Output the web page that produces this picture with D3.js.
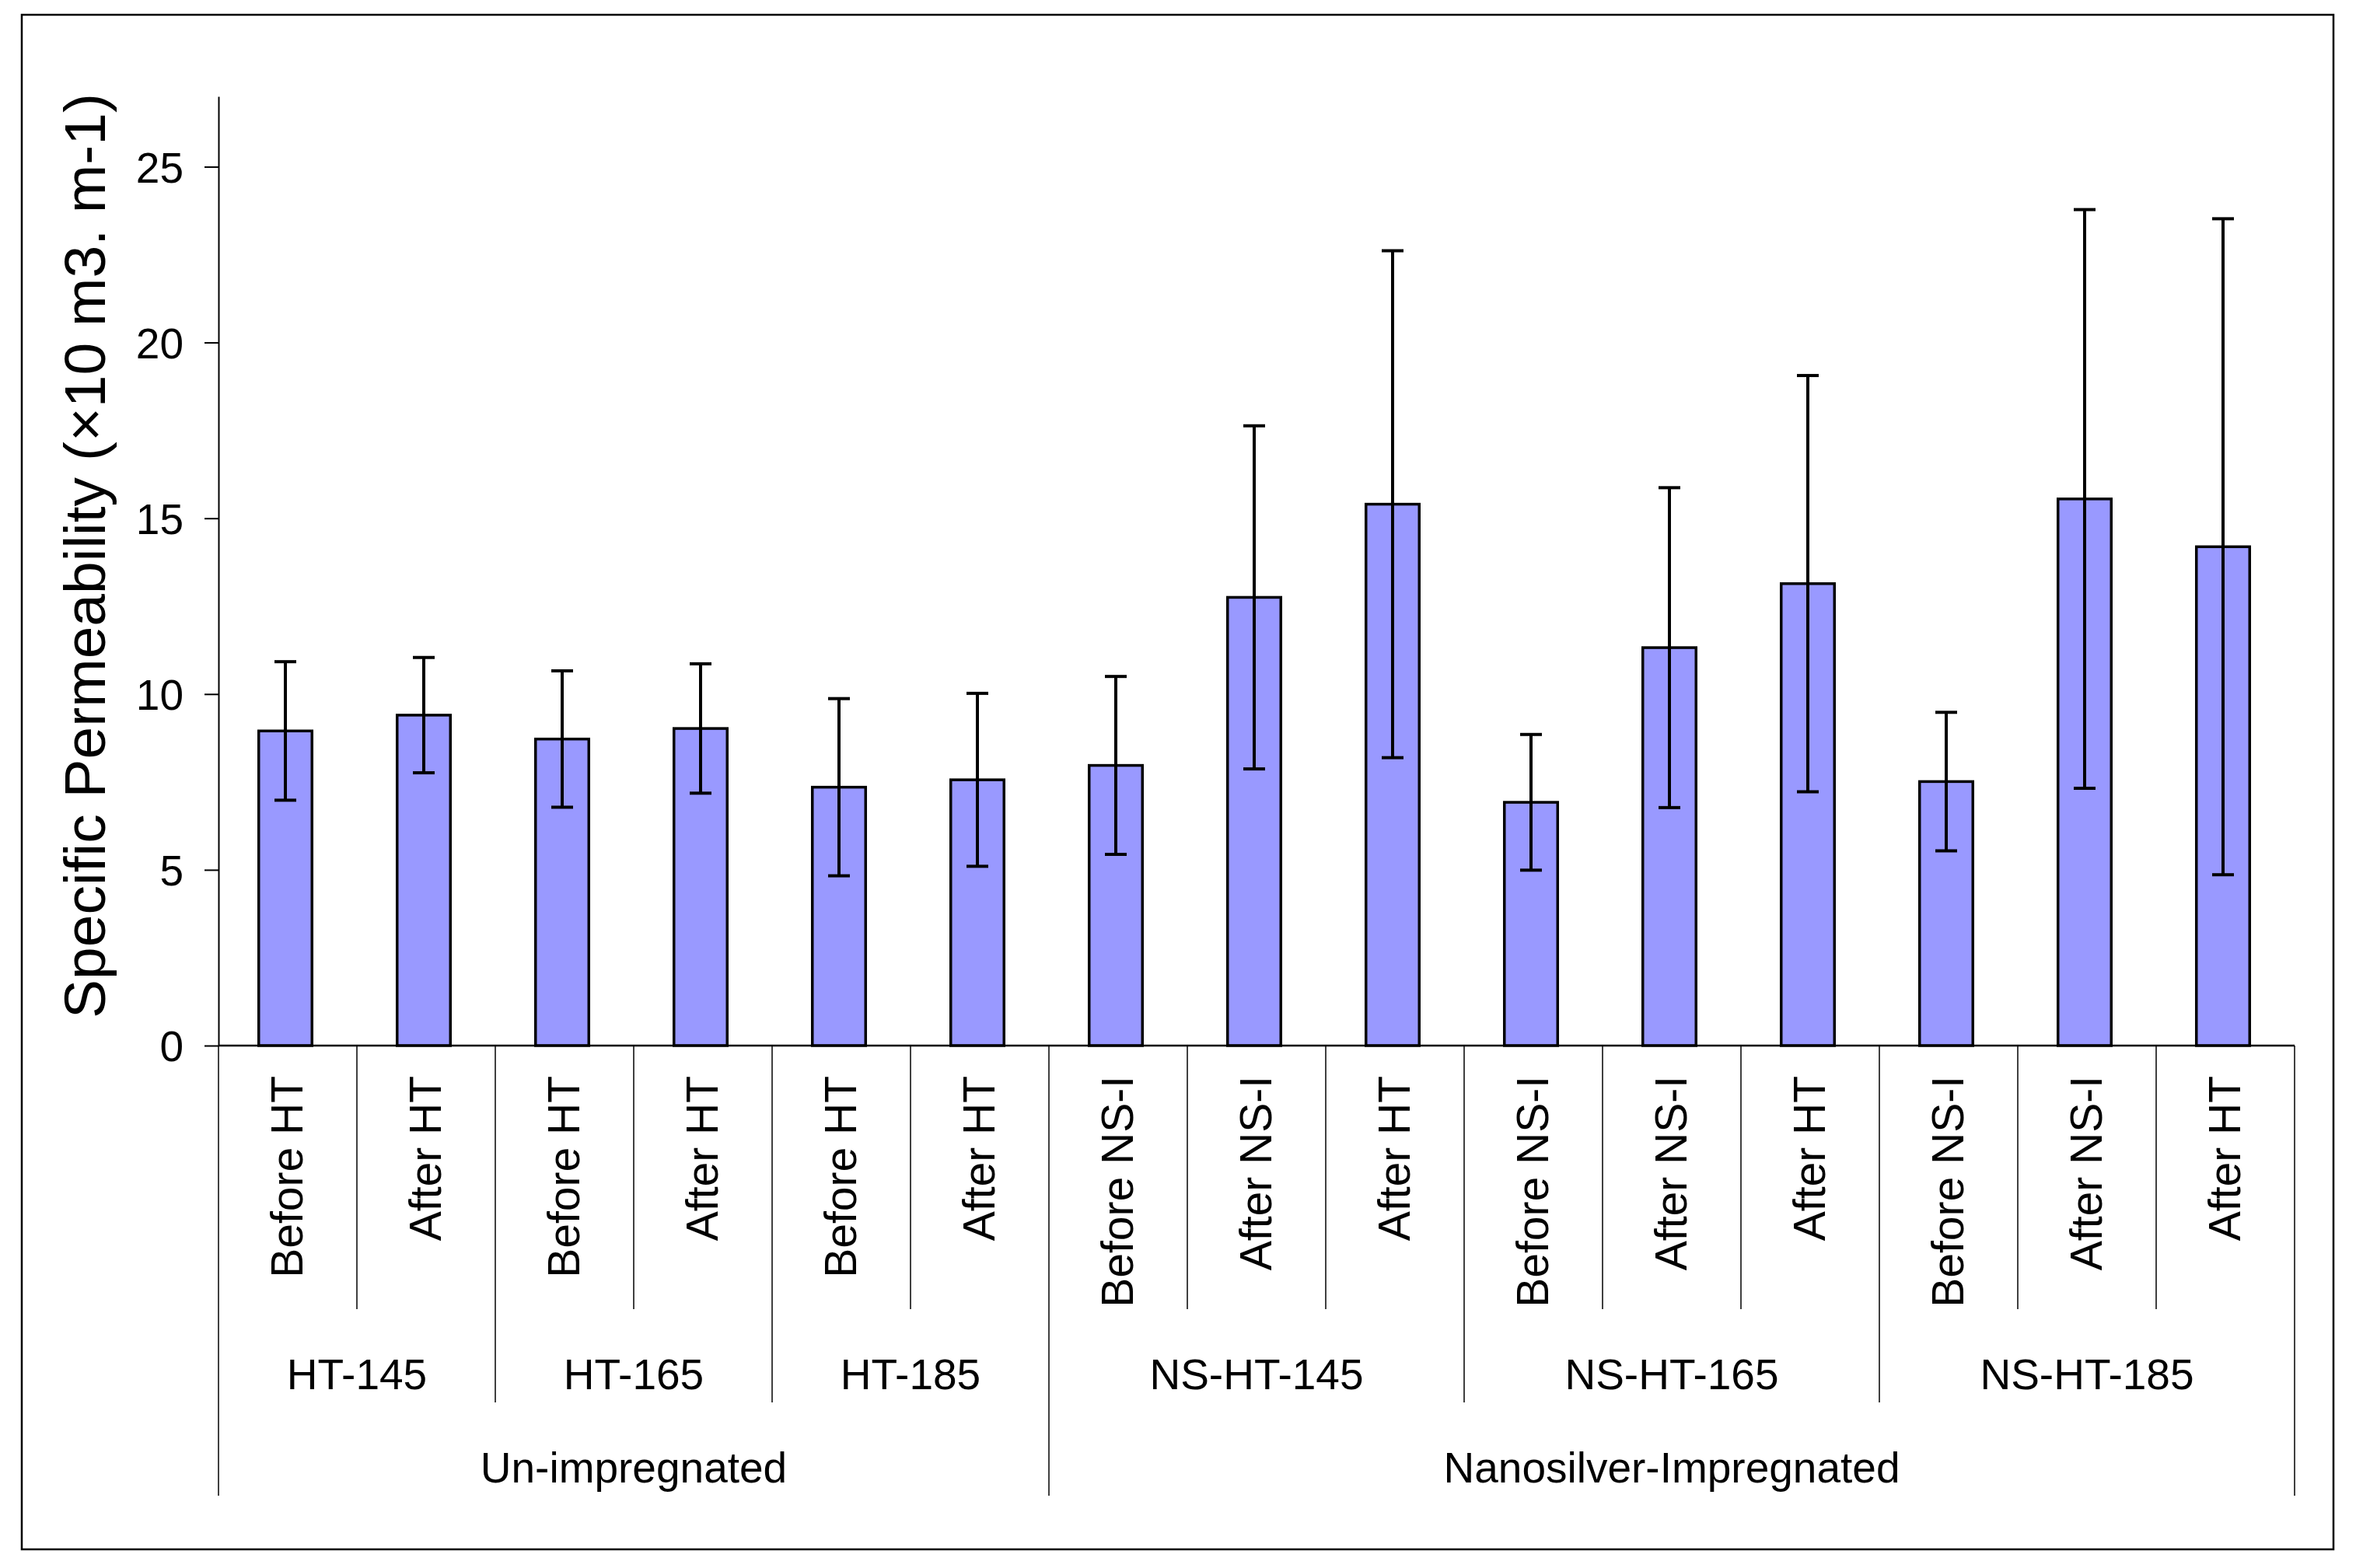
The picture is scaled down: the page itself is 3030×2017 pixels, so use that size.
<!DOCTYPE html>
<html>
<head>
<meta charset="utf-8">
<script src="https://cdn.jsdelivr.net/npm/d3@7"></script>
<style>
  body { margin: 0; background: #fff; }
  text { font-family: "Liberation Sans", Arial, sans-serif; fill: #000; }
</style>
</head>
<body>
<svg id="chart"></svg>
<script>
// bar labels, means and +/- errors
const categories = ['Before HT', 'After HT', 'Before HT', 'After HT', 'Before HT', 'After HT',
  'Before NS-I', 'After NS-I', 'After HT', 'Before NS-I', 'After NS-I', 'After HT',
  'Before NS-I', 'After NS-I', 'After HT']
const means = [8.95, 9.40, 8.72, 9.02, 7.35, 7.56, 7.97, 12.75, 15.40, 6.92, 11.32, 13.14, 7.51, 15.55, 14.19]
const errors = [1.97, 1.64, 1.94, 1.84, 2.52, 2.46, 2.53, 4.88, 7.21, 1.93, 4.55, 5.92, 1.97, 8.23, 9.33]

// second and third label rows
const groupNames = ['HT-145', 'HT-165', 'HT-185', 'NS-HT-145', 'NS-HT-165', 'NS-HT-185']
const groupSizes = [2, 2, 2, 3, 3, 3]
const treatNames = ['Un-impregnated', 'Nanosilver-Impregnated']
const treatSizes = [6, 9]

const yTicks = [0, 5, 10, 15, 20, 25]
const yLabel = 'Specific Permeability (×10 m3. m-1)'

const width = 3030
const height = 2017

const svg = d3.select('#chart')
  .attr('width', width)
  .attr('height', height)

// outer frame
svg.append('rect')
  .attr('x', 28).attr('y', 19)
  .attr('width', 2973).attr('height', 1974)
  .attr('fill', 'none')
  .attr('stroke', '#000')
  .attr('stroke-width', 2.5)

const plotLeft = 281, plotRight = 2951, plotTop = 124, plotBottom = 1345

const x = d3.scaleBand()
  .domain(d3.range(categories.length))
  .range([plotLeft, plotRight])
const y = d3.scaleLinear()
  .domain([0, 27])
  .range([plotBottom, plotTop])

const barW = x.bandwidth() * 0.385
// bars sit a little left of the band centre in the original
const mid = i => x(i) + x.bandwidth() / 2 - 3

// y axis
const yAxis = svg.append('g')
  .attr('transform', `translate(${plotLeft},0)`)
  .call(d3.axisLeft(y).tickValues(yTicks).tickSize(18).tickSizeOuter(0).tickPadding(27))
yAxis.select('.domain').attr('stroke-width', 2)
yAxis.selectAll('.tick line').attr('stroke-width', 2)
yAxis.selectAll('.tick text')
  .style('font-family', '"Liberation Sans", Arial, sans-serif')
  .style('font-size', '55px')
  .attr('dy', '0.36em')

svg.append('text')
  .attr('transform', 'translate(135,715) rotate(-90)')
  .style('font-size', '75px')
  .style('text-anchor', 'middle')
  .text(yLabel)

// bars
svg.selectAll('.bar')
  .data(means)
  .enter()
  .append('rect')
  .attr('class', 'bar')
  .attr('x', (d, i) => mid(i) - barW / 2)
  .attr('y', d => y(d))
  .attr('width', barW)
  .attr('height', d => plotBottom - y(d))
  .attr('fill', '#9999FF')
  .attr('stroke', '#000')
  .attr('stroke-width', 3.5)

// error bars
const err = svg.selectAll('.err')
  .data(means)
  .enter()
  .append('g')
  .attr('class', 'err')
  .attr('stroke', '#000')
  .attr('stroke-width', 4)
err.append('line')
  .attr('x1', (d, i) => mid(i))
  .attr('x2', (d, i) => mid(i))
  .attr('y1', (d, i) => y(d + errors[i]))
  .attr('y2', (d, i) => y(d - errors[i]))
err.selectAll('.cap')
  .data((d, i) => [[i, d + errors[i]], [i, d - errors[i]]])
  .enter()
  .append('line')
  .attr('x1', d => mid(d[0]) - 14)
  .attr('x2', d => mid(d[0]) + 14)
  .attr('y1', d => y(d[1]))
  .attr('y2', d => y(d[1]))

// x axis line
svg.append('line')
  .attr('x1', plotLeft).attr('x2', plotRight)
  .attr('y1', plotBottom).attr('y2', plotBottom)
  .attr('stroke', '#000')
  .attr('stroke-width', 2.5)

// separators: category 1684, group 1804, treatment 1924
const groupEnds = d3.cumsum(groupSizes)
const treatEnds = d3.cumsum(treatSizes)
const bounds = d3.range(categories.length + 1).map(k => {
  let depth = 1684
  if (k === 0 || treatEnds.includes(k)) depth = 1924
  else if (groupEnds.includes(k)) depth = 1804
  return {k, depth}
})
svg.selectAll('.sep')
  .data(bounds)
  .enter()
  .append('line')
  .attr('x1', d => d.k === categories.length ? plotRight : x(d.k))
  .attr('x2', d => d.k === categories.length ? plotRight : x(d.k))
  .attr('y1', plotBottom)
  .attr('y2', d => d.depth)
  .attr('stroke', '#000')
  .attr('stroke-width', 1.5)

// category labels, rotated
svg.selectAll('.cat')
  .data(categories)
  .enter()
  .append('text')
  .attr('transform', (d, i) => `translate(${x(i) + x.bandwidth() / 2 + 19},1384) rotate(-90)`)
  .style('font-size', '57px')
  .style('text-anchor', 'end')
  .text(d => d)

// group labels
const groupStarts = [0, ...groupEnds.slice(0, -1)]
svg.selectAll('.grp')
  .data(groupNames)
  .enter()
  .append('text')
  .attr('x', (d, i) => x(groupStarts[i]) + groupSizes[i] * x.bandwidth() / 2)
  .attr('y', 1787)
  .style('font-size', '55px')
  .style('text-anchor', 'middle')
  .text(d => d)

const treatStarts = [0, ...treatEnds.slice(0, -1)]
svg.selectAll('.treat')
  .data(treatNames)
  .enter()
  .append('text')
  .attr('x', (d, i) => x(treatStarts[i]) + treatSizes[i] * x.bandwidth() / 2)
  .attr('y', 1907)
  .style('font-size', '55px')
  .style('text-anchor', 'middle')
  .text(d => d)
</script>
</body>
</html>
